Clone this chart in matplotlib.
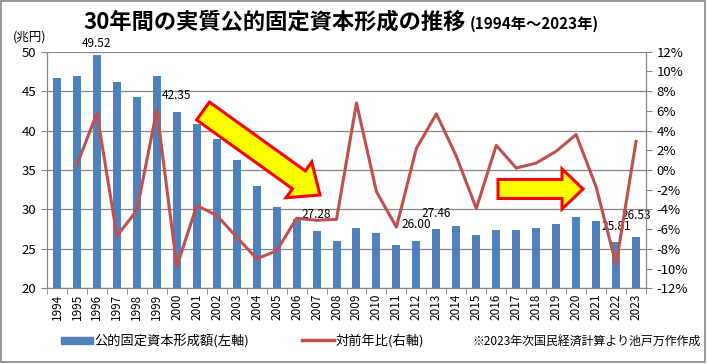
import matplotlib.pyplot as plt
import matplotlib.patches as mpatches
import matplotlib.transforms as mtransforms
from matplotlib.lines import Line2D
import numpy as np

plt.rcParams['font.family'] = ['Noto Sans CJK JP', 'DejaVu Sans']

# 年と実質公的固定資本形成（兆円）
years = list(range(1994, 2024))
investment = [46.67, 46.92, 49.52, 46.16, 44.26, 46.92, 42.35, 40.84, 38.93, 36.27,
              33.00, 30.30, 28.80, 27.28, 26.00, 27.65, 27.00, 25.50, 26.00, 27.46,
              27.90, 26.80, 27.40, 27.40, 27.65, 28.20, 29.05, 28.50, 25.81, 26.53]
# 対前年比（%）、1995年から
growth = [0.5, 5.8, -6.7, -4.1, 6.1, -9.8, -3.6, -4.6, -6.8, -9.0,
          -8.2, -4.9, -5.1, -5.0, 6.8, -2.2, -5.8, 2.2, 5.7, 1.4,
          -3.9, 2.5, 0.2, 0.7, 1.9, 3.6, -1.7, -9.6, 2.9]
labeled_years = [1996, 2000, 2007, 2012, 2013, 2022, 2023]

W, H = 707, 364
fig = plt.figure(figsize=(W / 100, H / 100), dpi=100)
ax1 = fig.add_axes([47 / W, 1 - 288.3 / H, (646 - 47) / W, (288.3 - 51.7) / H])

x = np.arange(len(years))
ax1.bar(x, investment, width=0.4, color='#4F81BD', zorder=2)
ax1.set_ylim(20, 50)
ax1.set_xlim(-0.5, len(years) - 0.5)
ax1.set_yticks(range(20, 51, 5))
ax1.yaxis.grid(True, color='#868686', linewidth=0.9, zorder=0)
ax1.set_axisbelow(True)
ax1.set_xticks(x)
ax1.set_xticklabels([str(y) for y in years], rotation=90, fontsize=8.5)
ax1.set_xticks(np.arange(-0.5, len(years), 1), minor=True)
ax1.tick_params(axis='x', which='major', length=0, pad=4)
ax1.tick_params(axis='x', which='minor', length=4, color='#868686')
ax1.tick_params(axis='y', length=4, color='#868686', labelsize=9.5)
for s in ['left', 'bottom', 'right']:
    ax1.spines[s].set_color('#868686')
ax1.spines['top'].set_visible(False)

for yr in labeled_years:
    i = years.index(yr)
    dy = 4 if yr == 1996 else (11 if yr == 2023 else 7)
    ax1.annotate(f'{investment[i]:.2f}', (x[i], investment[i]), xytext=(0, dy),
                 textcoords='offset points', ha='center', va='bottom',
                 fontsize=8.5, zorder=5)

ax2 = ax1.twinx()
ax2.plot(x[1:], growth, color='#C0504D', linewidth=2.2, zorder=3)
ax2.set_ylim(-12, 12)
ax2.set_yticks(range(-12, 13, 2))
ax2.set_yticklabels([f'{v}%' for v in range(-12, 13, 2)])
ax2.tick_params(axis='y', length=4, color='#868686', labelsize=9.5)
for s in ['left', 'bottom', 'right']:
    ax2.spines[s].set_color('#868686')
ax2.spines['top'].set_visible(False)

# タイトル
fig.text(83 / W, 1 - 22 / H, '30年間の実質公的固定資本形成の推移', fontsize=16,
         fontweight='bold', va='center', ha='left')
fig.text(470 / W, 1 - 24 / H, '(1994年～2023年)', fontsize=11,
         fontweight='bold', va='center', ha='left')
fig.text(30 / W, 1 - 37 / H, '(兆円)', fontsize=9, ha='center', va='center')

# 矢印（ピクセル座標）
pix = mtransforms.Affine2D().scale(1, -1).translate(0, H)
big = mpatches.FancyArrow(203, 111, 117, 84, width=22, head_width=44, head_length=26,
                          length_includes_head=True, facecolor='#FFFF00',
                          edgecolor='#FF0000', linewidth=2.2, transform=pix)
small = mpatches.FancyArrow(498, 189, 85, 0, width=19, head_width=40, head_length=21,
                            length_includes_head=True, facecolor='#FFFF00',
                            edgecolor='#FF0000', linewidth=2.2, transform=pix)
fig.add_artist(big)
fig.add_artist(small)

# 凡例
h1 = mpatches.Patch(color='#4F81BD')
h2 = Line2D([], [], color='#C0504D', linewidth=2.5)
fig.legend([h1], ['公的固定資本形成額(左軸)'], loc='center left',
           bbox_to_anchor=(49 / W, 1 - 341 / H), frameon=False, fontsize=9.5,
           handlelength=2.4, handleheight=0.45, handletextpad=0.15)
fig.legend([h2], ['対前年比(右軸)'], loc='center left',
           bbox_to_anchor=(290 / W, 1 - 341 / H), frameon=False, fontsize=9.5,
           handlelength=2.4, handletextpad=0.15)
fig.text(472 / W, 1 - 341 / H, '※2023年次国民経済計算より池戸万作作成', fontsize=8.6,
         va='center', ha='left')

fig.add_artist(mpatches.Rectangle((1, 1), W - 3, H - 3, fill=False,
                                  edgecolor='#868686', linewidth=1.2, transform=pix))

fig.savefig('out.png', dpi=100)
